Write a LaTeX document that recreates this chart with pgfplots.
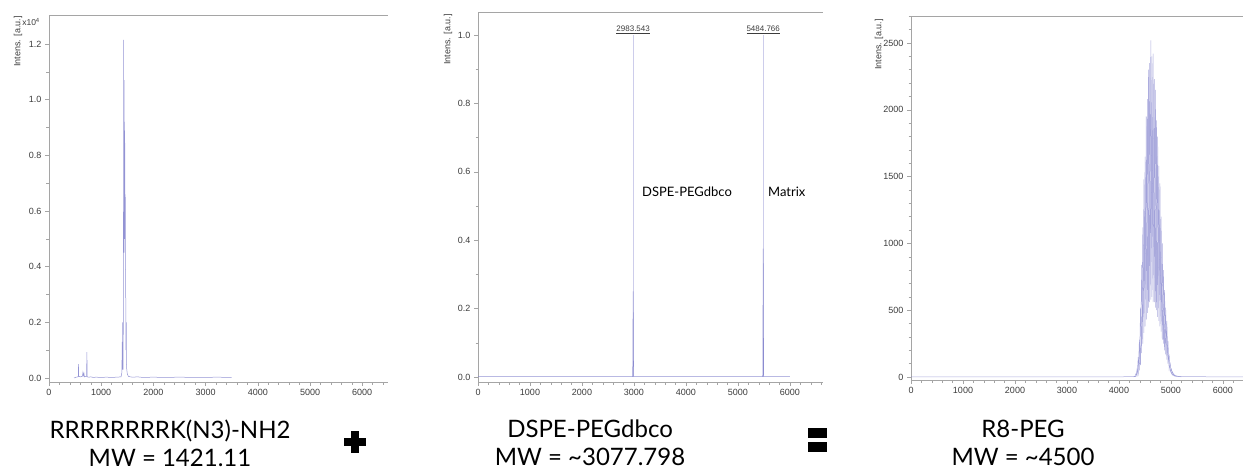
\documentclass[border=0pt]{standalone}
\usepackage{fontspec}
\setmainfont{Liberation Sans}
\newfontfamily\gill{Lato}
\usepackage{pgfplots}
\pgfplotsset{compat=1.18}

\definecolor{spec}{RGB}{128,128,204}
\definecolor{speclight}{RGB}{205,205,235}
\definecolor{axgray}{RGB}{165,165,165}
\definecolor{ticktext}{RGB}{60,60,60}

\tikzset{
  ylab/.style={rotate=90, anchor=east, font=\fontsize{9}{10}\selectfont, text=ticktext, inner sep=1pt},
  spectrum/.style={spec, line width=0.5pt, opacity=0.85},
}

\pgfplotsset{
  msaxis/.style={
    scale only axis,
    anchor=south west,
    axis lines=left,
    axis line style={-, axgray, line width=0.6pt},
    tick align=outside,
    major tick length=4pt,
    minor tick length=2.5pt,
    every tick/.style={axgray, line width=0.5pt},
    every minor tick/.style={axgray, line width=0.5pt},
    tick label style={font=\fontsize{9}{10}\selectfont, text=ticktext},
    /pgf/number format/assume math mode=true,
    /pgf/number format/1000 sep={},
    scaled ticks=false,
    xmin=0,
    xtick={0,1000,2000,3000,4000,5000,6000},
    minor xtick={200,400,...,6600},
    clip=false,
  },
}

\begin{document}
\begin{tikzpicture}[x=1pt,y=1pt]
\path[use as bounding box] (0,0) rectangle (1243,472);

% ---- RRRRRRRRK(N3)-NH2 ----
\begin{axis}[msaxis,
  at={(49pt,90pt)}, width=339pt, height=367pt,
  xmax=6494, ymin=-0.0144, ymax=1.304,
  ytick={0,0.2,0.4,0.6,0.8,1.0,1.2},
  minor ytick={0.1,0.3,0.5,0.7,0.9,1.1},
  yticklabel style={/pgf/number format/.cd, fixed, fixed zerofill, precision=1},
]
\addplot[spectrum] coordinates {
 (480,0.000)(520,0.003)(550,0.004)(562,0.005)(566,0.050)(570,0.006)(600,0.004)
 (640,0.006)(650,0.020)(655,0.012)(662,0.008)(670,0.016)(678,0.004)(700,0.005)
 (720,0.006)(726,0.093)(732,0.004)(760,0.003)(800,0.004)(850,0.002)(900,0.003)
 (1000,0.002)(1100,0.003)(1200,0.002)(1300,0.003)(1380,0.004)(1396,0.020)
 (1402,0.130)(1406,0.030)(1411,0.200)(1415,0.040)(1420,0.030)(1426,0.350)
 (1430,1.215)(1434,0.450)(1438,1.070)(1442,0.550)(1446,0.920)(1450,0.500)
 (1454,0.845)(1458,0.450)(1462,0.650)(1466,0.350)(1470,0.300)(1474,0.100)
 (1480,0.200)(1484,0.050)(1490,0.030)(1500,0.015)(1520,0.006)(1560,0.004)
 (1600,0.003)(1700,0.004)(1750,0.003)(1800,0.002)(2000,0.003)(2200,0.002)
 (2500,0.003)(2800,0.002)(3000,0.002)(3200,0.003)(3500,0.002)
};
\draw[axgray, line width=0.6pt] (rel axis cs:0,1) -- (rel axis cs:1,1);
\node[ylab] at ([xshift=-31pt]rel axis cs:0,1) {Intens. [a.u.]};
\node[anchor=east, font=\fontsize{8.5}{10}\selectfont, text=ticktext, inner sep=0pt]
  at ([xshift=-9pt, yshift=-7pt]rel axis cs:0,1) {x10\textsuperscript{4}};
\end{axis}

% ---- DSPE-PEGdbco ----
\begin{axis}[msaxis,
  at={(478pt,90pt)}, width=345pt, height=370pt,
  xmax=6635, ymin=-0.0146, ymax=1.067,
  ytick={0,0.2,0.4,0.6,0.8,1.0},
  minor ytick={0.1,0.3,0.5,0.7,0.9},
  yticklabel style={/pgf/number format/.cd, fixed, fixed zerofill, precision=1},
]
% peak annotation leaders
\addplot[speclight, line width=0.6pt] coordinates {(2983.543,0) (2983.543,1.0)};
\addplot[speclight, line width=0.6pt] coordinates {(5484.766,0) (5484.766,1.0)};
\addplot[spectrum] coordinates {
 (0,0.001)(1000,0.001)(2000,0.001)(2975,0.001)(2983.543,0.25)(2992,0.001)
 (4000,0.001)(5476,0.001)(5484.766,0.375)(5493,0.001)(6000,0.001)
};
\node[anchor=south, inner sep=1pt, font=\fontsize{8}{9}\selectfont, text=ticktext]
  at (axis cs:2983.543,1.0) {\underline{2983.543}};
\node[anchor=south, inner sep=1pt, font=\fontsize{8}{9}\selectfont, text=ticktext]
  at (axis cs:5484.766,1.0) {\underline{5484.766}};
\node[anchor=west, inner sep=0pt, font=\gill\fontsize{13}{15}\selectfont]
  at (axis cs:3154,0.541) {DSPE-PEGdbco};
\node[anchor=west, inner sep=0pt, font=\gill\fontsize{13}{15}\selectfont]
  at (axis cs:5577,0.541) {Matrix};
\draw[axgray, line width=0.6pt] (rel axis cs:0,1) -- (rel axis cs:1,1);
\node[ylab] at ([xshift=-30pt, yshift=-1pt]rel axis cs:0,1) {Intens. [a.u.]};
\end{axis}

% ---- R8-PEG ----
\begin{axis}[msaxis,
  at={(911pt,92pt)}, width=332pt, height=364pt,
  xmax=6385, ymin=-22, ymax=2702,
  ytick={0,500,1000,1500,2000,2500},
  minor ytick={100,200,...,2700},
]
% main oligomer series (44 Da spacing)
\addplot[spectrum, opacity=0.65] coordinates {
 (0,1)(1000,2)(2000,1)(3000,2)(4000,2)(4280,3)(4304,5)(4326,3)(4348,60)(4370,20)
 (4392,280)(4414,90)(4436,840)(4458,250)(4480,1480)(4502,380)(4524,1950)
 (4546,480)(4568,2300)(4590,560)(4612,2520)(4634,600)(4656,2420)(4678,560)
 (4700,2150)(4722,500)(4744,1800)(4766,420)(4788,1450)(4810,340)(4832,1000)
 (4854,250)(4876,650)(4898,170)(4920,420)(4942,100)(4964,170)(4986,40)
 (5008,60)(5030,15)(5052,25)(5074,6)(5096,10)(5150,4)(5400,3)(5800,2)(6380,2)
};
% interleaved series
\addplot[spectrum, opacity=0.65] coordinates {
 (4280,2)(4304,3)(4326,25)(4348,10)(4370,150)(4392,50)(4414,520)(4436,180)
 (4458,1120)(4480,330)(4502,1650)(4524,430)(4546,2080)(4568,520)(4590,2350)
 (4612,580)(4634,2400)(4656,560)(4678,2230)(4700,520)(4722,1920)(4744,450)
 (4766,1580)(4788,380)(4810,1200)(4832,280)(4854,800)(4876,200)(4898,520)
 (4920,130)(4942,270)(4964,60)(4986,100)(5008,25)(5030,40)(5052,10)(5074,15)
 (5096,4)(5200,2)
};
\draw[axgray, line width=0.6pt] (rel axis cs:0,1) -- (rel axis cs:1,1);
\node[ylab] at ([xshift=-32pt, yshift=-2pt]rel axis cs:0,1) {Intens. [a.u.]};
\end{axis}

% ---- captions and operators ----
\node[align=center, font=\gill\fontsize{24}{28}\selectfont, inner sep=0pt] at (170,29)
  {RRRRRRRRK(N3)-NH2\\MW = 1421.11};
\node[align=center, font=\gill\fontsize{24}{28}\selectfont, inner sep=0pt] at (590,29)
  {DSPE-PEGdbco\\MW = \textasciitilde 3077.798};
\node[align=center, font=\gill\fontsize{24}{28}\selectfont, inner sep=0pt] at (1023,29)
  {R8-PEG\\MW = \textasciitilde 4500};
% plus sign
\fill (344,26) rectangle (366,34);
\fill (351,19) rectangle (359,41);
% equals sign
\fill (808,34) rectangle (827,44);
\fill (808,20) rectangle (827,30);
\end{tikzpicture}
\end{document}
